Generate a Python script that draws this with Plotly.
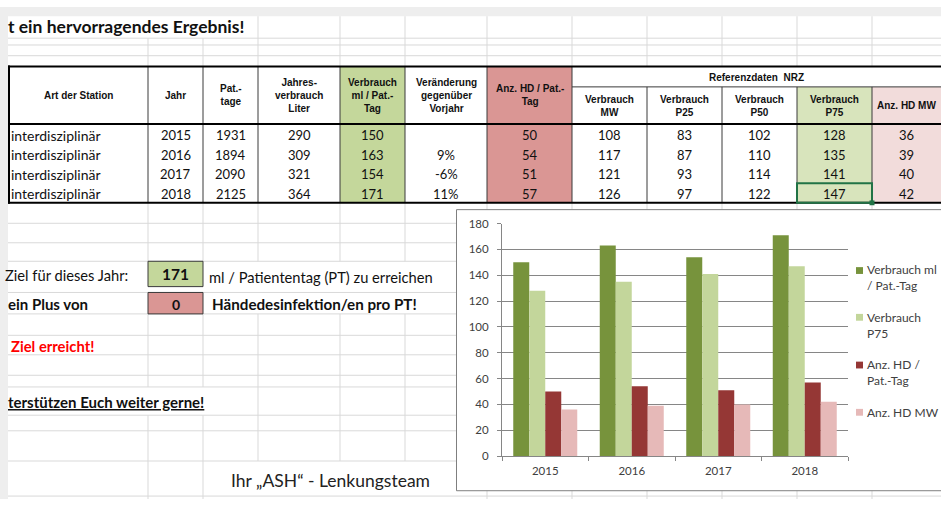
import plotly.graph_objects as go

W, H = 941, 505

# ---------------- data ----------------
years = ["2015", "2016", "2017", "2018"]
station = ["interdisziplinär", "interdisziplinär", "interdisziplinär", "interdisziplinär"]
pat_tage = [1931, 1894, 2090, 2125]
jahresverbrauch = [290, 309, 321, 364]
verbrauch_ml = [150, 163, 154, 171]
veraenderung = ["", "9%", "-6%", "11%"]
anz_hd = [50, 54, 51, 57]
ref_mw = [108, 117, 121, 126]
ref_p25 = [83, 87, 93, 97]
ref_p50 = [102, 110, 114, 122]
ref_p75 = [128, 135, 141, 147]
anz_hd_mw = [36, 39, 40, 42]

header_labels = ["Art der Station", "Jahr", "Pat.-<br>tage", "Jahres-<br>verbrauch<br>Liter",
                 "Verbrauch<br>ml / Pat.-<br>Tag", "Veränderung<br>gegenüber<br>Vorjahr",
                 "Anz. HD / Pat.-<br>Tag", "Verbrauch<br>MW", "Verbrauch<br>P25",
                 "Verbrauch<br>P50", "Verbrauch<br>P75", "Anz. HD MW"]
ref_header = "Referenzdaten  NRZ"

series_names = ["Verbrauch ml / Pat.-Tag", "Verbrauch P75", "Anz. HD / Pat.-Tag", "Anz. HD MW"]
legend_labels = ["Verbrauch ml<br>/ Pat.-Tag", "Verbrauch<br>P75", "Anz. HD /<br>Pat.-Tag", "Anz. HD MW"]
series_colors = ["#77933c", "#c3d69b", "#953735", "#e6b9b8"]
y_ticks = [0, 20, 40, 60, 80, 100, 120, 140, 160, 180]

title_text = "t ein hervorragendes Ergebnis!"
ziel_wert = 171
plus_wert = 0

# ---------------- helpers ----------------
FC = "Lato, Carlito, Calibri, sans-serif"
FT = "Liberation Sans, Arial, sans-serif"
GRID = "#d9d9d9"
BORDER = "#3a3a3a"

def px(x):
    return x / W

def py(y):
    return 1 - y / H

shapes = []
annotations = []

def rect(x0, y0, x1, y1, fill=None, line=None, width=1):
    shapes.append(dict(type="rect", xref="paper", yref="paper", layer="below",
                       x0=px(x0), x1=px(x1), y0=py(y1), y1=py(y0),
                       fillcolor=fill if fill else "rgba(0,0,0,0)",
                       line=dict(color=line if line else "rgba(0,0,0,0)", width=width if line else 0)))

def hline(y, x0, x1, color=GRID, width=1):
    shapes.append(dict(type="line", xref="paper", yref="paper", layer="below",
                       x0=px(x0), x1=px(x1), y0=py(y), y1=py(y), line=dict(color=color, width=width)))

def vline(x, y0, y1, color=GRID, width=1):
    shapes.append(dict(type="line", xref="paper", yref="paper", layer="below",
                       x0=px(x), x1=px(x), y0=py(y0), y1=py(y1), line=dict(color=color, width=width)))

def text(x, y, s, size, color="#111111", family=FC, xanchor="center", yanchor="middle", align="center"):
    annotations.append(dict(x=px(x), y=py(y), xref="paper", yref="paper", text=s, showarrow=False,
                            xanchor=xanchor, yanchor=yanchor, align=align,
                            font=dict(family=family, size=size, color=color)))

# ---------------- sheet background ----------------
rect(0, 0, W, 9.5, fill="#eeeeee")
rect(0, 0, 8, H, fill="#eeeeee")

# gridlines above table
for gy in [32, 39, 50]:
    hline(gy, 8, W)
for gx in [148, 203]:
    vline(gx, 32, 61)
for gx in [258, 340, 405, 487, 572, 647, 722, 797, 872]:
    vline(gx, 9.5, 61)

# gridlines below table (left part)
for gy in [222, 242, 261, 293, 315, 337, 357, 378, 390, 419, 435, 466]:
    hline(gy, 8, 456)
hline(502, 8, W)
for gx, segs in [(148, [(201, 261), (315, 390), (419, 505)]),
                 (203, [(201, 261), (315, 390), (419, 505)]),
                 (258, [(201, 261), (315, 466)]),
                 (340, [(201, 261), (315, 466)]),
                 (405, [(201, 261), (315, 466)])]:
    for a, b in segs:
        vline(gx, a, b)
for gx in [487, 572, 647, 722, 797, 872]:
    vline(gx, 201, 208)
    vline(gx, 496, 505)

# ---------------- table ----------------
edges = [9, 148, 203, 258, 340, 405, 487, 572, 647, 722, 797, 872, 941]
centers = [(edges[i] + edges[i + 1]) / 2 for i in range(len(edges) - 1)]

rect(9, 61, 941, 201, fill="white")
rect(340, 61, 405, 201, fill="#c4d79b")
rect(487, 61, 572, 201, fill="#da9694")
rect(797, 82, 872, 201, fill="#d8e4bc")
rect(872, 82, 941, 201, fill="#f2dcdb")

for xe in edges[1:-1]:
    top = 82 if xe in (647, 722, 797, 872) else 61
    vline(xe, top, 201, BORDER, 1)
hline(82, 572, 941, BORDER, 1)
vline(9, 60, 202, "#000000", 2)
for yy in [61, 120, 201]:
    hline(yy, 8, 941, "#000000", 2)

# selection of P75/2018 cell
rect(797, 181, 872, 201, line="#217346", width=2)
rect(869.5, 198.5, 874.5, 203.5, fill="#217346")

# headers
for i, lab in enumerate(header_labels):
    cy = 90.5 if i < 7 else 101.5
    text(centers[i], cy, "<b>" + lab + "</b>", 10, color="#111111", family=FT)
text((572 + 941) / 2, 72, "<b>" + ref_header + "</b>", 10, color="#111111", family=FT)

# data rows
row_y = [131.5, 151.5, 171.5, 191.5]
columns = [station, years, pat_tage, jahresverbrauch, verbrauch_ml, veraenderung,
           anz_hd, ref_mw, ref_p25, ref_p50, ref_p75, anz_hd_mw]
for ci, col in enumerate(columns):
    for ri, val in enumerate(col):
        if ci == 0:
            text(9, row_y[ri], str(val), 14, xanchor="left")
        else:
            text(centers[ci], row_y[ri], str(val), 13)

# ---------------- texts ----------------
text(6, 20, "<b>" + title_text + "</b>", 17.5, color="#111111", xanchor="left")

rect(148, 261, 203, 287, fill="#c4d79b", line=BORDER, width=1)
rect(148, 293, 203, 315, fill="#da9694", line=BORDER, width=1)
text(3, 275, "Ziel für dieses Jahr:", 14.7, xanchor="left")
text(175.5, 274.5, "<b>%d</b>" % ziel_wert, 15.5)
text(207, 277, "ml / Patiententag (PT) zu erreichen", 14.7, xanchor="left")
text(6, 305, "<b>ein Plus von</b>", 15, xanchor="left")
text(175.5, 305, "<b>%d</b>" % plus_wert, 14)
text(210, 305, "<b>Händedesinfektion/en pro PT!</b>", 15.2, xanchor="left")
text(9, 348, "<b>Ziel erreicht!</b>", 14.8, color="#ff0000", xanchor="left")
text(6, 405, "<b><u>terstützen Euch weiter gerne!</u></b>", 15, xanchor="left")
text(229, 486, "Ihr „ASH“ - Lenkungsteam", 17.5, color="#222222", xanchor="left")

# ---------------- chart frame ----------------
rect(456.5, 208, 960, 496.5, fill="white", line="#7f7f7f", width=1)

# manual legend
leg_y = [278, 327, 375, 416]
leg_sq = [270.5, 318.5, 367.5, 416]
for lab, col, yc, ys in zip(legend_labels, series_colors, leg_y, leg_sq):
    rect(856, ys - 3.5, 863, ys + 3.5, fill=col)
    text(865, yc, lab, 12, color="#404040", xanchor="left", align="left")

# ---------------- figure ----------------
fig = go.Figure()
for name, vals, col in zip(series_names, [verbrauch_ml, ref_p75, anz_hd, anz_hd_mw], series_colors):
    fig.add_trace(go.Bar(x=years, y=vals, name=name, marker=dict(color=col, line=dict(width=0))))

fig.update_layout(
    width=W, height=H, autosize=False,
    margin=dict(l=0, r=0, t=0, b=0, pad=0),
    paper_bgcolor="white", plot_bgcolor="rgba(0,0,0,0)",
    showlegend=False,
    barmode="group", bargap=0.26, bargroupgap=0,
    shapes=shapes, annotations=annotations,
    font=dict(family=FC, color="#404040"),
    xaxis=dict(domain=[px(502), px(848)], type="category", showgrid=False, zeroline=False,
               showline=True, linecolor="#868686", linewidth=1,
               ticks="outside", tickson="boundaries", ticklen=4, tickcolor="#868686",
               ticklabelstandoff=4,
               tickfont=dict(family=FC, size=11.5, color="#404040")),
    yaxis=dict(domain=[py(461), py(222.3)], range=[0, 180], tickvals=y_ticks,
               showgrid=True, gridcolor="#868686", gridwidth=1, zeroline=False,
               showline=True, linecolor="#868686", linewidth=1,
               ticks="outside", ticklen=4, tickcolor="#868686", ticklabelstandoff=6,
               tickfont=dict(family=FC, size=11.5, color="#404040")),
)

fig.write_html("out.html", config={"displayModeBar": False},
               post_script="document.body.style.margin='0';document.body.style.overflow='hidden';"
                           "document.documentElement.style.overflow='hidden';")
